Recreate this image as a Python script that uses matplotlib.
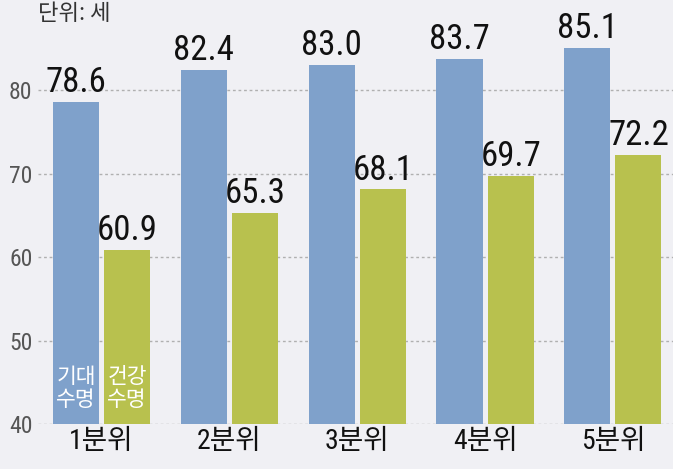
import matplotlib
matplotlib.use("Agg")
import matplotlib.pyplot as plt
import numpy as np

categories = ["1분위", "2분위", "3분위", "4분위", "5분위"]
life_expectancy = [78.6, 82.4, 83.0, 83.7, 85.1]
healthy_life = [60.9, 65.3, 68.1, 69.7, 72.2]
yticks = [40, 50, 60, 70, 80]

cond = ["Roboto Condensed", "Archivo Narrow", "Liberation Sans", "Noto Sans CJK KR", "DejaVu Sans"]
kr = ["Noto Sans CJK KR", "DejaVu Sans"]

blue = "#7fa1cb"
green = "#b8c14e"
bg = "#f0f0f4"

fig = plt.figure(figsize=(6.73, 4.69), dpi=100, facecolor=bg)
ax = fig.add_axes([38/673, 45/469, 1 - 38/673, 1 - 45/469], facecolor=bg)

x = np.arange(len(categories))
w = 0.36
off = 0.2
ax.bar(x - off, life_expectancy, width=w, bottom=0, color=blue, zorder=3)
ax.bar(x + off, healthy_life, width=w, bottom=0, color=green, zorder=3)

ax.set_ylim(40, 90.8)
ax.set_xlim(-0.497, 4.47)
ax.set_yticks(yticks)
ax.set_yticklabels([str(t) for t in yticks], family=cond, fontsize=17, color="#555555")
ax.tick_params(axis="y", length=0, pad=4)
ax.set_xticks(x)
ax.set_xticklabels(categories, family=cond, fontsize=20, color="#111111")
ax.tick_params(axis="x", length=0, pad=3)
for s in ax.spines.values():
    s.set_visible(False)
ax.grid(axis="y", color="#b0b0b0", linestyle=(0, (2, 2)), linewidth=1.0, zorder=1)

for xi, v in zip(x, life_expectancy):
    ax.annotate(f"{v:.1f}", (xi - off, v), xytext=(0, 2), textcoords="offset points",
                ha="center", va="bottom", fontsize=25, family=cond, color="#111111")
for xi, v in zip(x, healthy_life):
    ax.annotate(f"{v:.1f}", (xi + off, v), xytext=(0, 2), textcoords="offset points",
                ha="center", va="bottom", fontsize=25, family=cond, color="#111111")

ax.text(x[0] - off, 41.6, "기대\n수명", ha="center", va="bottom", fontsize=15.5,
        family=kr, color="white", linespacing=1.05, zorder=4)
ax.text(x[0] + off, 41.6, "건강\n수명", ha="center", va="bottom", fontsize=15.5,
        family=kr, color="white", linespacing=1.05, zorder=4)

fig.text(38/673, 1 - 14/469, "단위: 세", ha="left", va="center", fontsize=16,
         family=kr, color="#333333", style="italic")

fig.savefig("out.png", dpi=100, facecolor=bg)
